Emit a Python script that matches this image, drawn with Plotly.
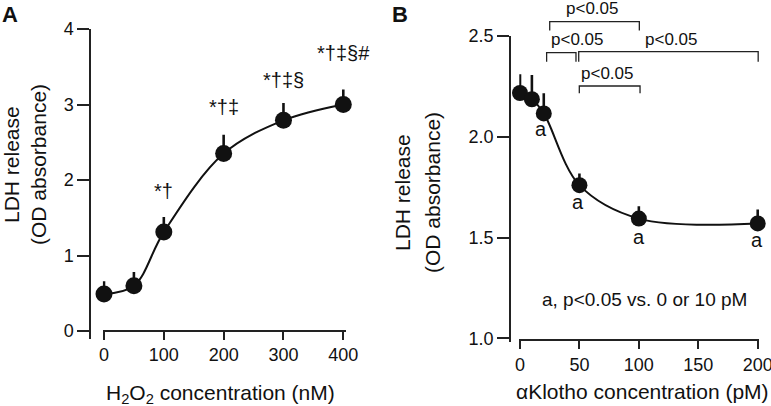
import plotly.graph_objects as go

W, H = 771, 406
def fx(px): return px / W
def fy(py): return 1 - py / H

FONT = "Arial, Liberation Sans, sans-serif"
INK = "#111111"

# ---- Panel A data ----
h2o2_conc = [0, 50, 100, 200, 300, 400]
ldh_a = [0.49, 0.60, 1.31, 2.35, 2.79, 3.00]
ldh_a_err = [0.17, 0.18, 0.20, 0.25, 0.23, 0.20]
sig_a_x = [100, 200, 300, 400]
sig_a_y = [1.85, 2.97, 3.32, 3.68]
sig_a_text = ["*†", "*†‡", "*†‡§", "*†‡§#"]

# ---- Panel B data ----
klotho_conc = [0, 10, 20, 50, 100, 200]
ldh_b = [2.217, 2.186, 2.116, 1.76, 1.594, 1.57]
ldh_b_err = [0.093, 0.12, 0.10, 0.058, 0.061, 0.069]
a_x = [18, 49, 100.4, 199]
a_y = [2.04, 1.678, 1.504, 1.488]
tick_b = [1.0, 1.5, 2.0, 2.5]

fig = go.Figure()

fig.add_trace(go.Scatter(
    x=h2o2_conc, y=ldh_a, mode="lines+markers",
    line=dict(color=INK, width=2, shape="spline", smoothing=1.0),
    marker=dict(color=INK, size=17),
    error_y=dict(type="data", symmetric=False, array=ldh_a_err,
                 arrayminus=[0]*len(ldh_a_err), color=INK, thickness=2.6, width=0),
    xaxis="x", yaxis="y", showlegend=False, cliponaxis=False))

fig.add_trace(go.Scatter(
    x=klotho_conc, y=ldh_b, mode="lines+markers",
    line=dict(color=INK, width=2, shape="spline", smoothing=1.0),
    marker=dict(color=INK, size=16),
    error_y=dict(type="data", symmetric=False, array=ldh_b_err,
                 arrayminus=[0]*len(ldh_b_err), color=INK, thickness=2.6, width=0),
    xaxis="x2", yaxis="y2", showlegend=False, cliponaxis=False))

axis_common = dict(showgrid=False, zeroline=False, showline=True, linecolor="#222",
                   linewidth=1.5, ticks="outside", tickcolor="#222", tickwidth=1.5,
                   automargin=False, ticklabeloverflow="allow",
                   tickfont=dict(family=FONT, size=18, color=INK))

# x scale A: 0 at 104px, 400 at 343.3px
sxa = (343.3 - 104) / 400
fig.update_layout(
    xaxis=dict(domain=[fx(102.7), fx(346)],
               range=[(102.7 - 104) / sxa, (346 - 104) / sxa],
               anchor="free", position=fy(331), ticklen=8,
               tickvals=[0, 100, 200, 300, 400], **axis_common),
    yaxis=dict(domain=[fy(339.3), fy(29)],
               range=[-(339.3 - 331) / 75.5, 4],
               anchor="free", position=fx(90), ticklen=12,
               tickvals=[0, 1, 2, 3, 4], **axis_common),
)

sxb = (757.7 - 520) / 200
syb = (338.3 - 36) / 1.5
fig.update_layout(
    xaxis2=dict(domain=[fx(519.3), fx(759)],
                range=[(519.3 - 520) / sxb, (759 - 520) / sxb],
                anchor="free", position=fy(339.5), ticklen=9,
                tickvals=[0, 50, 100, 150, 200], **axis_common),
    yaxis2=dict(domain=[fy(341.7), fy(36)],
                range=[1.0 - (341.7 - 338.3) / syb, 2.5],
                anchor="free", position=fx(510), ticklen=12,
                tickvals=tick_b, ticktext=[f"{v:.1f}" for v in tick_b], **axis_common),
)

ann = []
def pann(text, x, y, size, xanchor="center", yanchor="middle", angle=0, bold=False):
    ann.append(dict(text=f"<b>{text}</b>" if bold else text, x=x, y=y,
                    xref="paper", yref="paper", xanchor=xanchor, yanchor=yanchor,
                    textangle=angle, showarrow=False, borderpad=0,
                    font=dict(family=FONT, size=size, color=INK)))

# panel letters
pann("A", fx(1), fy(1), 22, "left", "top", bold=True)
pann("B", fx(391), fy(1), 22, "left", "top", bold=True)
# y-axis titles (one annotation per line)
pann("LDH release", fx(11), fy(165), 21, "center", "middle", -90)
pann("(OD absorbance)", fx(38), fy(165), 21, "center", "middle", -90)
pann("LDH release", fx(403), fy(193), 21, "center", "middle", -90)
pann("(OD absorbance)", fx(433), fy(193), 21, "center", "middle", -90)
# x-axis titles
pann("H<sub>2</sub>O<sub>2</sub> concentration (nM)", fx(220.5), fy(408), 21, "center", "bottom")
pann("αKlotho concentration (pM)", fx(770), fy(391), 21, "right", "middle")

# significance marks A
for xv, yv, t in zip(sig_a_x, sig_a_y, sig_a_text):
    ann.append(dict(text=t, x=xv, y=yv, xref="x", yref="y", showarrow=False,
                    xanchor="center", yanchor="middle",
                    font=dict(family=FONT, size=20, color=INK)))
# "a" marks B
for xv, yv in zip(a_x, a_y):
    ann.append(dict(text="a", x=xv, y=yv, xref="x2", yref="y2", showarrow=False,
                    xanchor="center", yanchor="middle",
                    font=dict(family=FONT, size=20, color=INK)))
ann.append(dict(text="a, p<0.05 vs. 0 or 10 pM", x=104.4, y=1.195, xref="x2", yref="y2",
                showarrow=False, xanchor="center", yanchor="middle",
                font=dict(family=FONT, size=19, color=INK)))

# brackets: (x0, x1, y_h px, y_leg px, label x, label y px)
brackets = [
    (25.0, 100.4, 21.7, 30.5, 60.3, 8.3),
    (22.4, 47.1, 52.7, 61.7, 47.7, 40.0),
    (49.4, 200.4, 51.7, 61.7, 126.9, 40.0),
    (49.9, 101.0, 86.0, 93.3, 73.6, 73.3),
]
shapes = []
for x0, x1, yh, yl, lx, ly in brackets:
    shapes.append(dict(type="path", xref="x2", yref="paper",
                       path=f"M {x0},{fy(yl)} L {x0},{fy(yh)} L {x1},{fy(yh)} L {x1},{fy(yl)}",
                       line=dict(color="#222", width=1.3)))
    ann.append(dict(text="p<0.05", x=lx, y=fy(ly), xref="x2", yref="paper",
                    showarrow=False, xanchor="center", yanchor="middle", borderpad=0,
                    font=dict(family=FONT, size=17, color=INK)))

fig.update_layout(width=W, height=H, margin=dict(l=0, r=0, t=0, b=0, autoexpand=False),
                  paper_bgcolor="white", plot_bgcolor="white",
                  annotations=ann, shapes=shapes)

fig.write_html("out.html", config={"displayModeBar": False},
               post_script="document.body.style.margin='0';document.body.style.overflow='hidden';")
